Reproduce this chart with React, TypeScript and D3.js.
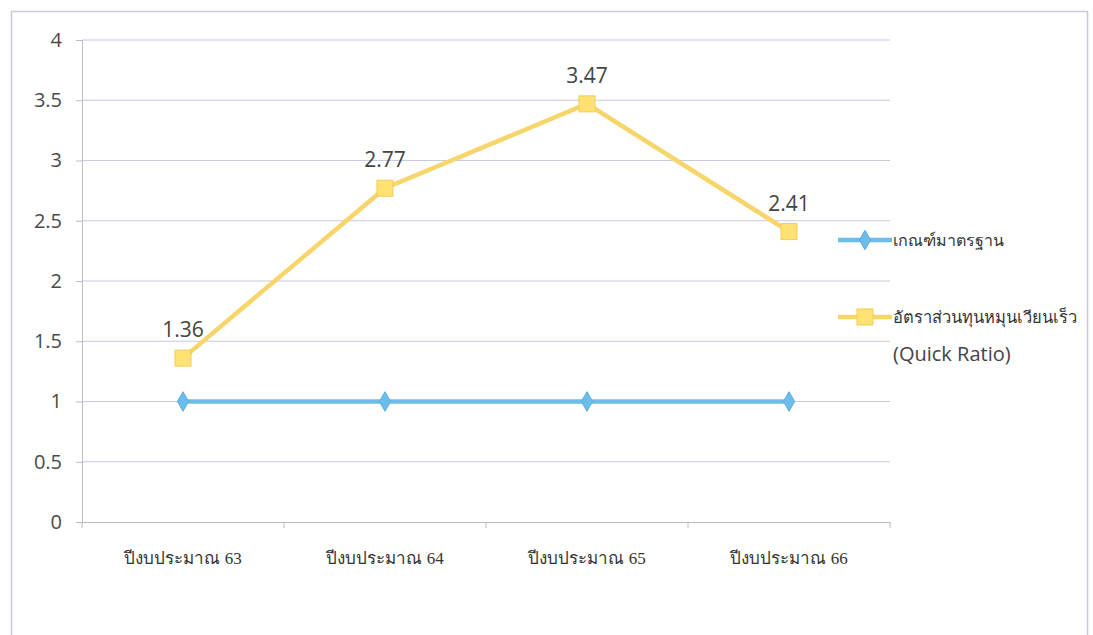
import * as d3 from "d3";
import React, { useEffect, useRef } from "react";

const categories = ["ปีงบประมาณ 63", "ปีงบประมาณ 64", "ปีงบประมาณ 65", "ปีงบประมาณ 66"];
const standardValues = [1, 1, 1, 1];
const quickRatioValues = [1.36, 2.77, 3.47, 2.41];
const yTicks = [0, 0.5, 1, 1.5, 2, 2.5, 3, 3.5, 4];
const standardName = "เกณฑ์มาตรฐาน";
const quickName = ["อัตราส่วนทุนหมุนเวียนเร็ว", "(Quick Ratio)"];

const W = 1093;
const H = 635;
const BLUE = "#6DBDEB";
const YELLOW = "#F8D56A";
const YELLOW_FILL = "#FFE272";

export default function App() {
  const svgRef = useRef<SVGSVGElement>(null);

  useEffect(() => {
    if (!svgRef.current) return;
    const svg = d3.select(svgRef.current);
    svg.selectAll("*").remove();

    svg.append("rect").attr("width", W).attr("height", H).attr("fill", "#fff");
    // outer frame
    svg
      .append("rect")
      .attr("x", 11.5)
      .attr("y", 11.5)
      .attr("width", 1076)
      .attr("height", 640)
      .attr("fill", "none")
      .attr("stroke", "#c9ccd4")
      .attr("stroke-width", 1.5);

    const left = 82;
    const right = 890;
    const top = 40;
    const bottom = 522;

    const x = d3.scaleBand<string>().domain(categories).range([left, right]);
    const y = d3.scaleLinear().domain([0, 4]).range([bottom, top]);
    const cx = (c: string) => (x(c) as number) + x.bandwidth() / 2;

    // gridlines
    svg
      .append("g")
      .selectAll("line")
      .data(yTicks.filter((t) => t > 0))
      .join("line")
      .attr("x1", left)
      .attr("x2", right)
      .attr("y1", (d) => y(d))
      .attr("y2", (d) => y(d))
      .attr("stroke", "#c6cadf")
      .attr("stroke-width", 1.2);

    // y axis
    const yAxis = svg
      .append("g")
      .attr("transform", `translate(${left},0)`)
      .call(d3.axisLeft(y).tickValues(yTicks).tickSize(6).tickPadding(14).tickFormat((d) => String(d)));
    yAxis.select(".domain").attr("stroke", "#b8bcc8");
    yAxis.selectAll(".tick line").attr("stroke", "#b8bcc8");
    yAxis
      .selectAll("text")
      .attr("fill", "#4a4a4a")
      .attr("font-size", 20)
      .attr("font-family", "'Open Sans', 'DejaVu Sans', sans-serif");

    // x axis
    const xAxis = svg
      .append("g")
      .attr("transform", `translate(0,${bottom})`)
      .call(d3.axisBottom(x).tickSize(0).tickPadding(30));
    xAxis.select(".domain").attr("stroke", "#b8bcc8");
    xAxis
      .selectAll("text")
      .attr("fill", "#333")
      .attr("font-size", 17)
      .attr("font-family", "'Liberation Serif', serif");
    svg
      .append("g")
      .selectAll("line")
      .data(categories.concat(["end"]))
      .join("line")
      .attr("x1", (_d, i) => left + i * x.bandwidth())
      .attr("x2", (_d, i) => left + i * x.bandwidth())
      .attr("y1", bottom)
      .attr("y2", bottom + 6)
      .attr("stroke", "#b8bcc8");

    const line = d3
      .line<number>()
      .x((_d, i) => cx(categories[i]))
      .y((d) => y(d));

    // standard series
    svg
      .append("path")
      .datum(standardValues)
      .attr("d", line)
      .attr("fill", "none")
      .attr("stroke", BLUE)
      .attr("stroke-width", 4.5);
    const diamond = d3.symbol().type(d3.symbolDiamond).size(110);
    svg
      .append("g")
      .selectAll("path")
      .data(standardValues)
      .join("path")
      .attr("d", diamond)
      .attr("transform", (d, i) => `translate(${cx(categories[i])},${y(d)})`)
      .attr("fill", BLUE)
      .attr("stroke", "#5aaee0");

    // quick ratio series
    svg
      .append("path")
      .datum(quickRatioValues)
      .attr("d", line)
      .attr("fill", "none")
      .attr("stroke", YELLOW)
      .attr("stroke-width", 4.5);
    svg
      .append("g")
      .selectAll("rect")
      .data(quickRatioValues)
      .join("rect")
      .attr("x", (_d, i) => cx(categories[i]) - 8)
      .attr("y", (d) => y(d) - 8)
      .attr("width", 16)
      .attr("height", 16)
      .attr("fill", YELLOW_FILL)
      .attr("stroke", "#f2cc55")
      .attr("stroke-width", 1);
    svg
      .append("g")
      .selectAll("text")
      .data(quickRatioValues)
      .join("text")
      .attr("x", (_d, i) => cx(categories[i]))
      .attr("y", (d) => y(d) - 21)
      .attr("text-anchor", "middle")
      .attr("fill", "#444")
      .attr("font-size", 21)
      .attr("font-family", "'Open Sans', 'DejaVu Sans', sans-serif")
      .text((d) => d.toFixed(2));

    // legend
    const lg = svg.append("g");
    const ly1 = 240;
    lg.append("line").attr("x1", 838).attr("x2", 892).attr("y1", ly1).attr("y2", ly1).attr("stroke", BLUE).attr("stroke-width", 4.5);
    lg.append("path").attr("d", diamond).attr("transform", `translate(865,${ly1})`).attr("fill", BLUE).attr("stroke", "#5aaee0");
    lg.append("text")
      .attr("x", 893)
      .attr("y", ly1 + 6)
      .attr("fill", "#333")
      .attr("font-size", 16)
      .attr("font-family", "'Liberation Serif', serif")
      .text(standardName);

    const ly2 = 317;
    lg.append("line").attr("x1", 838).attr("x2", 892).attr("y1", ly2).attr("y2", ly2).attr("stroke", YELLOW).attr("stroke-width", 4.5);
    lg.append("rect").attr("x", 857).attr("y", ly2 - 8).attr("width", 16).attr("height", 16).attr("fill", YELLOW_FILL).attr("stroke", "#f2cc55");
    lg.append("text")
      .attr("x", 893)
      .attr("y", ly2 + 6)
      .attr("fill", "#333")
      .attr("font-size", 16.5)
      .attr("font-family", "'Liberation Serif', serif")
      .text(quickName[0]);
    lg.append("text")
      .attr("x", 893)
      .attr("y", ly2 + 44)
      .attr("fill", "#444")
      .attr("font-size", 20)
      .attr("font-family", "'Open Sans', 'DejaVu Sans', sans-serif")
      .text(quickName[1]);
  }, []);

  return (
    <svg
      ref={svgRef}
      width={W}
      height={H}
      style={{ position: "absolute", left: 0, top: 0, display: "block" }}
    />
  );
}
